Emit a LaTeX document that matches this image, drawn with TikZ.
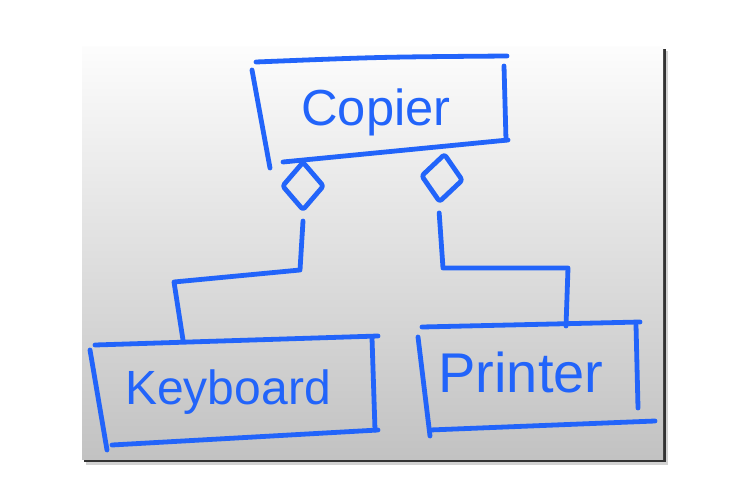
\documentclass[tikz,border=0pt]{standalone}
\usepackage{fontspec}
\setmainfont{Liberation Sans}
\usetikzlibrary{shapes.geometric}

\definecolor{ink}{RGB}{34,100,250}

\begin{document}
\begin{tikzpicture}[
    x=0.75pt, y=-0.75pt,
    pen/.style={draw=ink, line width=3.6pt, line cap=round, line join=round},
    word/.style={text=ink, inner sep=0pt},
    agg/.style={pen, shape=diamond, minimum width=32pt, minimum height=37pt,
                inner sep=0pt, rounded corners=2pt}
]
\useasboundingbox (0,0) rectangle (741,478);

% -- board with shadow --
\fill[gray!35] (86,51) rectangle (668,465);
\fill[black!80] (84,49) rectangle (666,462);
\shade[top color=white!99!black, bottom color=white!76!black] (82,47) rectangle (663,459);

% -- Copier --
\node[word, font=\fontsize{38}{40}\selectfont] (copier) at (376,112) {Copier};
\draw[pen] (256,62) .. controls (380,57) .. (507,56);
\draw[pen] (252,70) -- (270,168);
\draw[pen] (283,162) -- (508,140);
\draw[pen] (504,66) -- (506,140);

% -- Keyboard --
\node[word, font=\fontsize{36}{38}\selectfont] (keyboard) at (228,392) {Keyboard};
\draw[pen] (95,345) -- (378,336);
\draw[pen] (90,350) -- (107,450);
\draw[pen] (112,445) -- (378,430);
\draw[pen] (372,338) -- (375,430);
\coordinate (kbtop) at (183,340);

% -- Printer --
\node[word, font=\fontsize{42}{44}\selectfont] (printer) at (521,372) {Printer};
\draw[pen] (422,327) -- (640,322);
\draw[pen] (418,337) -- (430,436);
\draw[pen] (430,430) -- (655,421);
\draw[pen] (636,325) -- (638,408);
\coordinate (prtop) at (566,326);

% -- aggregation diamonds --
\node[agg] (aggleft) at (303,186) {};
\node[agg, rotate=-6] (aggright) at (442,178) {};

% -- connectors --
\draw[pen] ([yshift=-6]aggleft.south) -- (300,270) -- (174,282) -- (kbtop);
\draw[pen] ([yshift=-6]aggright.south) -- (443,268) -- (568,268) -- (prtop);

\end{tikzpicture}
\end{document}
